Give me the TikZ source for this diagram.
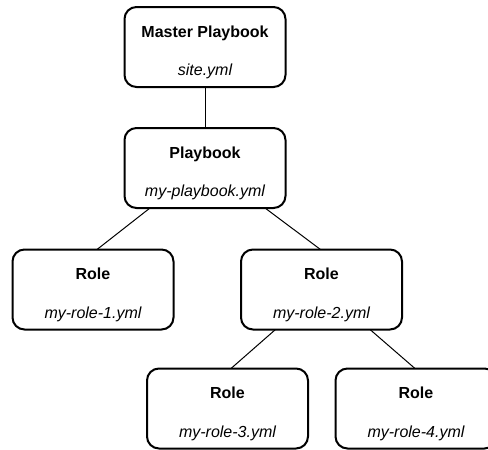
\documentclass[tikz,border=0pt]{standalone}
\usepackage{fontspec}
\setmainfont{Liberation Sans}
\usetikzlibrary{calc}
\tikzset{
  box/.style={draw=black, line width=2pt, rounded corners=12pt, fill=white,
              minimum width=161pt, minimum height=80pt, inner sep=0pt, outer sep=0pt},
  ttl/.style={font=\fontsize{16}{19}\selectfont\bfseries, anchor=base, inner sep=0pt},
  fname/.style={font=\fontsize{16}{19}\selectfont\itshape, anchor=base, inner sep=0pt},
  link/.style={draw=black, line width=1pt}
}
\begin{document}
\begin{tikzpicture}[x=1pt, y=-1pt]
  \useasboundingbox (0,0) rectangle (488,450);
  \clip (0,0) rectangle (488,450);

  % boxes
  \node[box] (master) at (205,47)    {};
  \node[box] (pb)     at (205,168)   {};
  \node[box] (r1)     at (93,289.5)  {};
  \node[box] (r2)     at (321.5,289.5) {};
  \node[box] (r3)     at (227.5,408.5) {};
  \node[box] (r4)     at (416,408.5) {};

  % connectors
  \draw[link] (master.south) -- (pb.north);
  \draw[link] ($(pb.south)+(-55,0)$) -- ($(r1.north)+(4,0)$);
  \draw[link] ($(pb.south)+(60,0)$)  -- ($(r2.north)+(-1,0)$);
  \draw[link] ($(r2.south)+(-46,0)$) -- ($(r3.north)+(3.5,0)$);
  \draw[link] ($(r2.south)+(48.5,0)$) -- ($(r4.north)+(-1,0)$);

  % texts
  \node[ttl]   (master-t) at ($(master.north)+(0,30)$) {Master Playbook};
  \node[fname] (master-f) at ($(master.north)+(0,68)$) {site.yml};
  \node[ttl]   (pb-t) at ($(pb.north)+(0,30)$) {Playbook};
  \node[fname] (pb-f) at ($(pb.north)+(0,68)$) {my-playbook.yml};
  \node[ttl]   (r1-t) at ($(r1.north)+(0,30)$) {Role};
  \node[fname] (r1-f) at ($(r1.north)+(0,69)$) {my-role-1.yml};
  \node[ttl]   (r2-t) at ($(r2.north)+(0,30)$) {Role};
  \node[fname] (r2-f) at ($(r2.north)+(0,69)$) {my-role-2.yml};
  \node[ttl]   (r3-t) at ($(r3.north)+(0,30)$) {Role};
  \node[fname] (r3-f) at ($(r3.north)+(0,69)$) {my-role-3.yml};
  \node[ttl]   (r4-t) at ($(r4.north)+(0,30)$) {Role};
  \node[fname] (r4-f) at ($(r4.north)+(0,69)$) {my-role-4.yml};
\end{tikzpicture}
\end{document}
